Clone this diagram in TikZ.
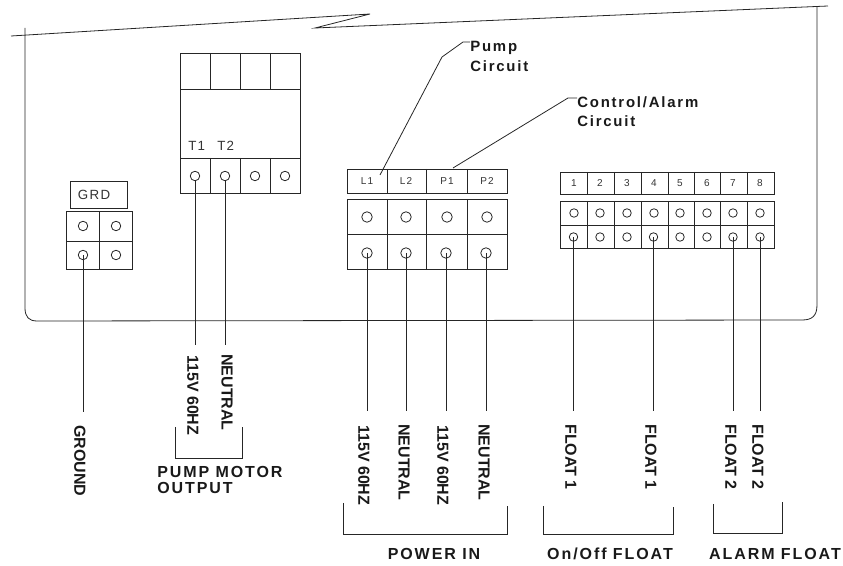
\documentclass[tikz,border=0pt]{standalone}
\usepackage{fontspec}
\setmainfont{Liberation Sans}
\newfontfamily\sparse[LetterSpace=12]{Liberation Sans}
\newfontfamily\thin[LetterSpace=10]{Liberation Sans}
\tikzset{
  ln/.style={draw=black!85,line width=0.6pt},
  term/.style={circle,draw=black!85,line width=0.6pt,minimum size=9.5*0.75pt,inner sep=0pt},
  bigterm/.style={term,minimum size=10.5*0.75pt},
  smallterm/.style={term,minimum size=8.5*0.75pt},
  vert/.style={rotate=-90,anchor=west,inner sep=0pt,font=\fontsize{12}{13}\selectfont\bfseries,text=black!90},
  group/.style={inner sep=0pt,font=\fontsize{12}{15}\sparse\bfseries,text=black!90},
  callout/.style={inner sep=0pt,anchor=north west,align=left,font=\fontsize{11.2}{14.6}\sparse\bfseries,text=black!90},
  tiny/.style={inner sep=0pt,font=\fontsize{7.5}{9}\thin,text=black!80},
  mid/.style={inner sep=0pt,font=\fontsize{10}{11}\thin,text=black!80}
}
\begin{document}
\begin{tikzpicture}[x=0.75pt,y=-0.75pt]
\useasboundingbox (0,0) rectangle (843,566);
% enclosure
\draw[ln] (11,36) -- (370,14) -- (315,28) -- (828,6);
\draw[ln] (25,28) -- (25,308) .. controls (25,317) and (29,321) .. (37,321) -- (802,320) .. controls (812,320) and (817,316) .. (817,305) -- (817,7);
% contactor
\draw[ln] (180.5,53) rectangle (300.5,193);
\draw[ln] (180.5,89) -- (300.5,89) (180.5,158) -- (300.5,158);
\draw[ln] (210,53) -- (210,89) (240,53) -- (240,89) (270.5,53) -- (270.5,89);
\draw[ln] (210,158) -- (210,193) (240,158) -- (240,193) (270.5,158) -- (270.5,193);
\node[mid,anchor=west] (tl1) at (188,145.5) {T1};
\node[mid,anchor=west] (tl2) at (217,145.5) {T2};
\node[term] (t1) at (195,176) {};
\node[term] (t2) at (225,176) {};
\node[term] (t3) at (255,176) {};
\node[term] (t4) at (285,176) {};
% ground
\draw[ln] (70,181) rectangle (127,208);
\node[mid] (grd) at (94,195) {GRD};
\draw[ln] (66,211) rectangle (132,269);
\draw[ln] (66,241) -- (132,241) (99.5,211) -- (99.5,269);
\node[term] (g1) at (83,226) {};
\node[term] (g2) at (116,226) {};
\node[term] (g3) at (83,255) {};
\node[term] (g4) at (116,255) {};
% power
\draw[ln] (347,169) rectangle (507,193);
\draw[ln] (387,169) -- (387,193) (426,169) -- (426,193) (467,169) -- (467,193);
\node[tiny] (l1) at (367,181) {L1};
\node[tiny] (l2) at (406,181) {L2};
\node[tiny] (p1) at (447,181) {P1};
\node[tiny] (p2) at (487,181) {P2};
\draw[ln] (347,199) rectangle (507,269);
\draw[ln] (347,234) -- (507,234) (387,199) -- (387,269) (426,199) -- (426,269) (467,199) -- (467,269);
\node[bigterm] (a1) at (367,217) {};
\node[bigterm] (a2) at (406,217) {};
\node[bigterm] (a3) at (447,217) {};
\node[bigterm] (a4) at (487,217) {};
\node[bigterm] (b1) at (367,253) {};
\node[bigterm] (b2) at (406,253) {};
\node[bigterm] (b3) at (446,253) {};
\node[bigterm] (b4) at (486,253) {};
% float strip
\draw[ln] (560,172) rectangle (774,194);
\draw[ln] (560,201) rectangle (774,248);
\draw[ln] (560,225) -- (774,225);
\foreach \x in {587,614,641,668,694,720,747} {\draw[ln] (\x,172) -- (\x,194) (\x,201) -- (\x,248);}
\node[tiny] (n1) at (574,183) {1};
\node[tiny] (n2) at (600,183) {2};
\node[tiny] (n3) at (627,183) {3};
\node[tiny] (n4) at (654,183) {4};
\node[tiny] (n5) at (680,183) {5};
\node[tiny] (n6) at (707,183) {6};
\node[tiny] (n7) at (733,183) {7};
\node[tiny] (n8) at (760,183) {8};
\node[smallterm] (u1) at (574,213) {};
\node[smallterm] (u2) at (600,213) {};
\node[smallterm] (u3) at (627,213) {};
\node[smallterm] (u4) at (654,213) {};
\node[smallterm] (u5) at (680,213) {};
\node[smallterm] (u6) at (707,213) {};
\node[smallterm] (u7) at (733,213) {};
\node[smallterm] (u8) at (760,213) {};
\node[smallterm] (d1) at (573.5,237) {};
\node[smallterm] (d2) at (600,237) {};
\node[smallterm] (d3) at (627,237) {};
\node[smallterm] (d4) at (653.5,237) {};
\node[smallterm] (d5) at (680,237) {};
\node[smallterm] (d6) at (707,237) {};
\node[smallterm] (d7) at (733,237) {};
\node[smallterm] (d8) at (760,237) {};
% wire ends
\coordinate (eg) at (83,412);
\coordinate (et1) at (195,345);
\coordinate (et2) at (225,345);
\coordinate (eb1) at (367,411);
\coordinate (eb2) at (406,411);
\coordinate (eb3) at (446,411);
\coordinate (eb4) at (486,411);
\coordinate (ed1) at (573.5,411);
\coordinate (ed4) at (653.5,411);
\coordinate (ed7) at (733,411);
\coordinate (ed8) at (760,411);
\draw[ln] (g3.center) -- (eg);
\draw[ln] (t1.south) -- (et1);
\draw[ln] (t2.south) -- (et2);
\draw[ln] (b1.center) -- (eb1);
\draw[ln] (b2.center) -- (eb2);
\draw[ln] (b3.center) -- (eb3);
\draw[ln] (b4.center) -- (eb4);
\draw[ln] (d1.center) -- (ed1);
\draw[ln] (d4.center) -- (ed4);
\draw[ln] (d7.center) -- (ed7);
\draw[ln] (d8.center) -- (ed8);
% vertical labels
\node[vert] (vg) at (80,425) {GROUND};
\node[vert] (v1) at (193,355) {115V 60HZ};
\node[vert] (v2) at (227,354) {NEUTRAL};
\node[vert] (v3) at (364,425) {115V 60HZ};
\node[vert] (v4) at (404,424) {NEUTRAL};
\node[vert] (v5) at (443,425) {115V 60HZ};
\node[vert] (v6) at (484,424) {NEUTRAL};
\node[vert] (v7) at (571,424) {FLOAT 1};
\node[vert] (v8) at (651,424) {FLOAT 1};
\node[vert] (v9) at (731,424) {FLOAT 2};
\node[vert] (v10) at (758,424) {FLOAT 2};
% brackets
\draw[ln] (175,427) -- (175,458) -- (242,458) -- (242,427);
\draw[ln] (343.5,503) -- (343.5,534) -- (507.5,534) -- (507.5,506);
\draw[ln] (543,506) -- (543,534) -- (673,534) -- (673,507);
\draw[ln] (713,504) -- (713,533) -- (782,533) -- (782,502);
% group labels
\node[group,anchor=west] (gp1) at (157,471.5) {PUMP MOTOR};
\node[group,anchor=west] (gp2) at (157,487.5) {OUTPUT};
\node[group] (gp3) at (434,554) {POWER IN};
\node[group] (gp4) at (610,554) {On/Off FLOAT};
\node[group] (gp5) at (775,554) {ALARM FLOAT};
% callouts
\node[callout] (pc) at (470,41) {Pump\\Circuit};
\node[callout] (cc) at (577,96) {Control/Alarm\\Circuit};
\coordinate (k0) at (380,175);
\coordinate (k1) at (442,57);
\coordinate (k2) at (463,42);
\coordinate (k3) at (568,98);
\coordinate (k4) at (453,168);
\draw[ln] (k0) -- (k1) -- (k2) -- (pc.north west |- k2);
\draw[ln] (k4) -- (k3) -- (cc.west |- k3);
\end{tikzpicture}
\end{document}
